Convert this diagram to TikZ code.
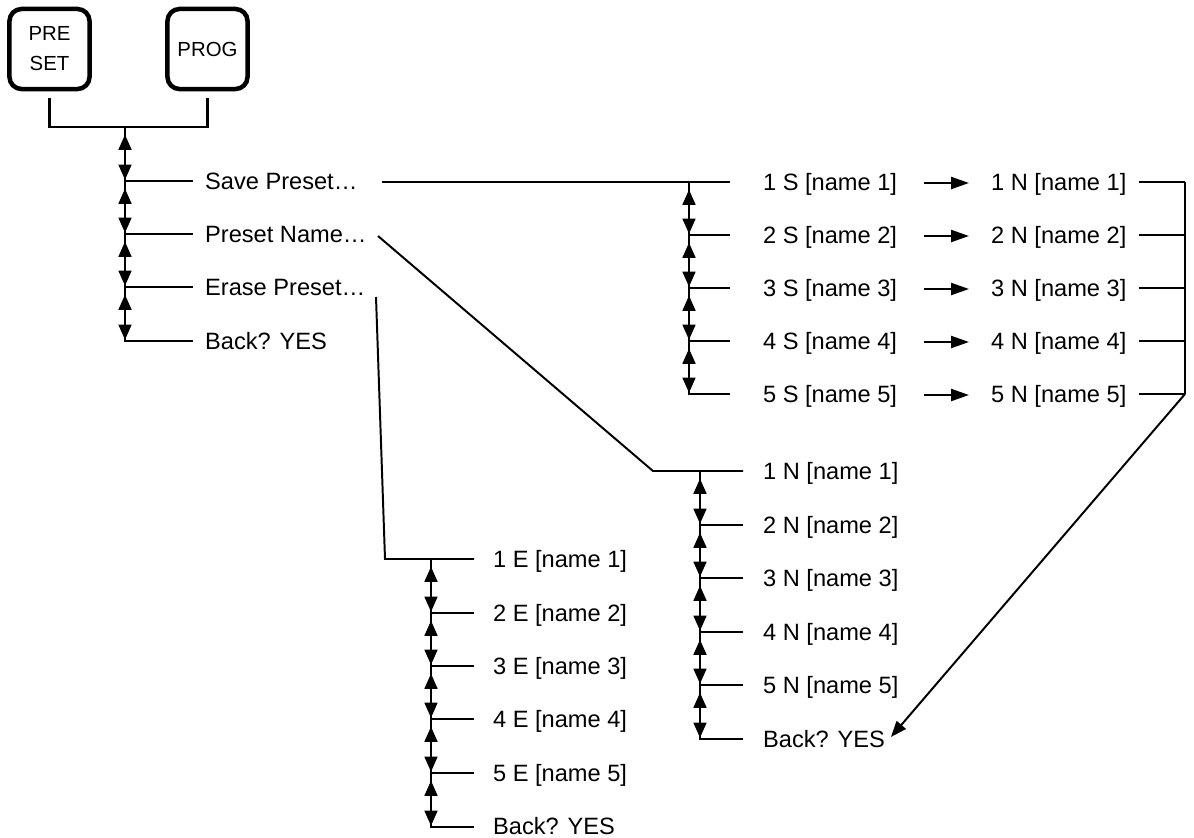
\documentclass[tikz,border=0pt]{standalone}
\usepackage{fontspec}
\setmainfont{Liberation Sans}
\usetikzlibrary{arrows.meta, calc}

\newcommand{\itemfont}{\fontsize{16.8}{20}\selectfont}
\newcommand{\btnfont}{\fontsize{14.5}{21.3}\selectfont}

\begin{document}
\begin{tikzpicture}[
    x=0.025cm, y=-0.025cm,
    line width=1.6pt,
    btn/.style={draw, line width=3.2pt, rounded corners=0.3cm, minimum width=2cm, minimum height=2cm,
                font=\btnfont, align=center, inner sep=0pt},
    item/.style={anchor=base west, inner sep=0pt, font=\itemfont},
    updown/.style={{Triangle[length=0.38cm, width=0.32cm]}-{Triangle[length=0.38cm, width=0.32cm]},
                   shorten <=0.19cm, shorten >=0.03cm},
    arr/.style={-{Triangle[length=0.45cm, width=0.3cm]}},
    backarr/.style={-{Triangle[length=0.4cm, width=0.3cm]}, line width=1.4pt},
]
\useasboundingbox (0,0) rectangle (1194,837);

% Buttons
\node[btn] (preset) at (49.5,49) {PRE\\SET};
\node[btn] (prog) at (207.5,49) {PROG};
\coordinate (hub) at (125,127);
\draw ([yshift=-0.17cm]preset.south) |- (hub) -| ([yshift=-0.17cm]prog.south);

% Main menu
\node[item] (save) at (204,189.5) {Save Preset…};
\node[item] (pname) at (204,242.5) {Preset Name…};
\node[item] (erase) at (204,295.5) {Erase Preset…};
\node[item] (mback) at (204,349.5) {Back? YES};
\draw (hub) |- (193,341);
\foreach \y in {181,234,287} \draw (125,\y) -- ++(68,0);
\foreach \a/\b in {127/181,181/234,234/287,287/341} \draw[updown] (125,\a) -- (125,\b);

% Save column
\coordinate (savej) at (382,182);
\draw (savej) -- (730,182);
\draw (689,182) |- (730,394);
\foreach \i/\y in {1/182,2/235,3/288,4/341,5/394} {
    \node[item] (s\i) at ({762},{\y+8.5}) {\i\ S [name \i]};
    \node[item] (r\i) at ({990},{\y+8.5}) {\i\ N [name \i]};
    \draw[arr] ($(s\i.base east)+(26,-7.5)$) -- ($(r\i.base west)+(-21,-7.5)$);
    \draw ($(r\i.base east)+(11,-8.5)$) -- (1185,\y);
}
\foreach \y in {235,288,341} \draw (689,\y) -- ++(41,0);
\foreach \a/\b in {182/235,235/288,288/341,341/394} \draw[updown] (689,\a) -- (689,\b);
\coordinate (rtop) at (1185,182);
\coordinate (rbot) at (1185,394);
\draw (rtop) -- (rbot);

% Name column
\coordinate (namej) at (378,236);
\draw[line width=1.4pt] (namej) -- (653,471) -- (743,471);
\draw (700,471) |- (743,739);
\foreach \i/\y in {1/471,2/525,3/578,4/632,5/685}
    \node[item] (n\i) at ({762},{\y+8.5}) {\i\ N [name \i]};
\node[item] (nback) at (762,747.5) {Back? YES};
\foreach \y in {525,578,632,685} \draw (700,\y) -- ++(43,0);
\foreach \a/\b in {471/525,525/578,578/632,632/685,685/739} \draw[updown] (700,\a) -- (700,\b);
\draw[backarr] (rbot) -- ($(nback.base east)+(5,-10.5)$);

% Erase column
\coordinate (erasej) at (376,297);
\draw[line width=1.4pt] (erasej) -- (385,559) -- (474,559);
\draw (431,559) |- (474,827);
\foreach \i/\y in {1/559,2/613,3/666,4/719,5/773}
    \node[item] (e\i) at ({492},{\y+8.5}) {\i\ E [name \i]};
\node[item] (eback) at (492,834) {Back? YES};
\foreach \y in {613,666,719,773} \draw (431,\y) -- ++(43,0);
\foreach \a/\b in {559/613,613/666,666/719,719/773,773/827} \draw[updown] (431,\a) -- (431,\b);

\end{tikzpicture}
\end{document}
